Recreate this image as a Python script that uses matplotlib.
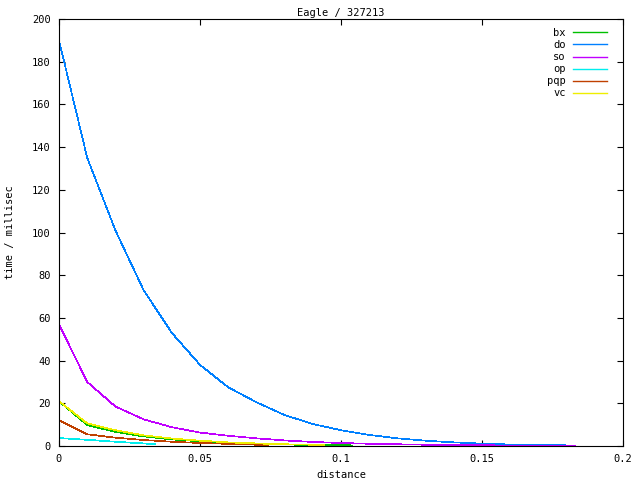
import matplotlib
matplotlib.use("Agg")
import matplotlib.pyplot as plt

plt.rcParams['font.family'] = ['DejaVu Sans Mono']

title = "Eagle / 327213"
xlabel = "distance"
ylabel = "time / millisec"

x_do = [0.00, 0.01, 0.02, 0.03, 0.04, 0.05, 0.06, 0.07, 0.08, 0.09, 0.10,
        0.11, 0.12, 0.13, 0.14, 0.15, 0.16, 0.17, 0.18, 0.183]
y_do = [190, 135, 101, 73, 53, 38, 27.5, 20.5, 14.5, 10.3, 7.4,
        5.2, 3.6, 2.5, 1.7, 1.1, 0.7, 0.45, 0.3, 0.25]

x_so = [0.00, 0.01, 0.02, 0.03, 0.04, 0.05, 0.06, 0.07, 0.08, 0.09, 0.10,
        0.11, 0.12, 0.13, 0.14, 0.15, 0.16, 0.17, 0.18, 0.183]
y_so = [57, 30, 18.5, 12.5, 8.8, 6.3, 4.8, 3.6, 2.6, 1.9, 1.4,
        1.05, 0.8, 0.6, 0.45, 0.35, 0.25, 0.2, 0.15, 0.12]

x_bx = [0.00, 0.01, 0.02, 0.03, 0.04, 0.05, 0.06, 0.07, 0.08, 0.09, 0.10, 0.104]
y_bx = [21, 9.8, 6.6, 4.5, 3.1, 2.2, 1.5, 1.0, 0.7, 0.5, 0.35, 0.3]

x_op = [0.00, 0.01, 0.02, 0.03, 0.034]
y_op = [3.7, 2.9, 2.0, 1.2, 0.8]

x_pqp = [0.00, 0.01, 0.02, 0.03, 0.04, 0.05, 0.06, 0.07, 0.074]
y_pqp = [12, 5.5, 3.9, 2.8, 2.0, 1.4, 1.0, 0.6, 0.5]

x_vc = [0.00, 0.01, 0.02, 0.03, 0.04, 0.05, 0.06, 0.07, 0.08, 0.09, 0.094]
y_vc = [21, 10.6, 7.4, 5.0, 3.5, 2.5, 1.7, 1.2, 0.8, 0.6, 0.5]

xticks = [0, 0.05, 0.1, 0.15, 0.2]
xticklabels = ["0", "0.05", "0.1", "0.15", "0.2"]
yticks = [0, 20, 40, 60, 80, 100, 120, 140, 160, 180, 200]

series = [
    ("bx", x_bx, y_bx, "#00c000"),
    ("do", x_do, y_do, "#0080ff"),
    ("so", x_so, y_so, "#c000ff"),
    ("op", x_op, y_op, "#00eeee"),
    ("pqp", x_pqp, y_pqp, "#c04000"),
    ("vc", x_vc, y_vc, "#eeee00"),
]

fig = plt.figure(figsize=(6.4, 4.8), dpi=100)
ax = fig.add_axes([59/640, 34/480, 564/640, 427/480])

for name, xs, ys, c in series:
    ax.plot(xs, ys, color=c, lw=0.5, label=name, antialiased=False)

ax.set_xlim(0, 0.2)
ax.set_ylim(0, 200)
ax.set_xticks(xticks)
ax.set_xticklabels(xticklabels)
ax.set_yticks(yticks)
ax.tick_params(direction='in', length=4, width=0.8, top=True, right=True,
               labelsize=7.5)
ax.tick_params(axis='x', pad=6)
ax.tick_params(axis='y', pad=6)
for s in ax.spines.values():
    s.set_linewidth(0.8)

ax.set_title(title, fontsize=7.5, pad=2)
ax.set_xlabel(xlabel, fontsize=7.5, labelpad=4)
ax.set_ylabel(ylabel, fontsize=7.5, labelpad=12)

leg = ax.legend(loc='upper right', frameon=False, markerfirst=False, fontsize=7.5,
                handlelength=3.3, handletextpad=0.65, labelspacing=0.2,
                borderaxespad=0, borderpad=0,
                bbox_to_anchor=(607/640, (480-28)/480),
                bbox_transform=fig.transFigure)
for h in leg.legend_handles:
    h.set_linewidth(1.0)

fig.savefig("out.png", dpi=100)
